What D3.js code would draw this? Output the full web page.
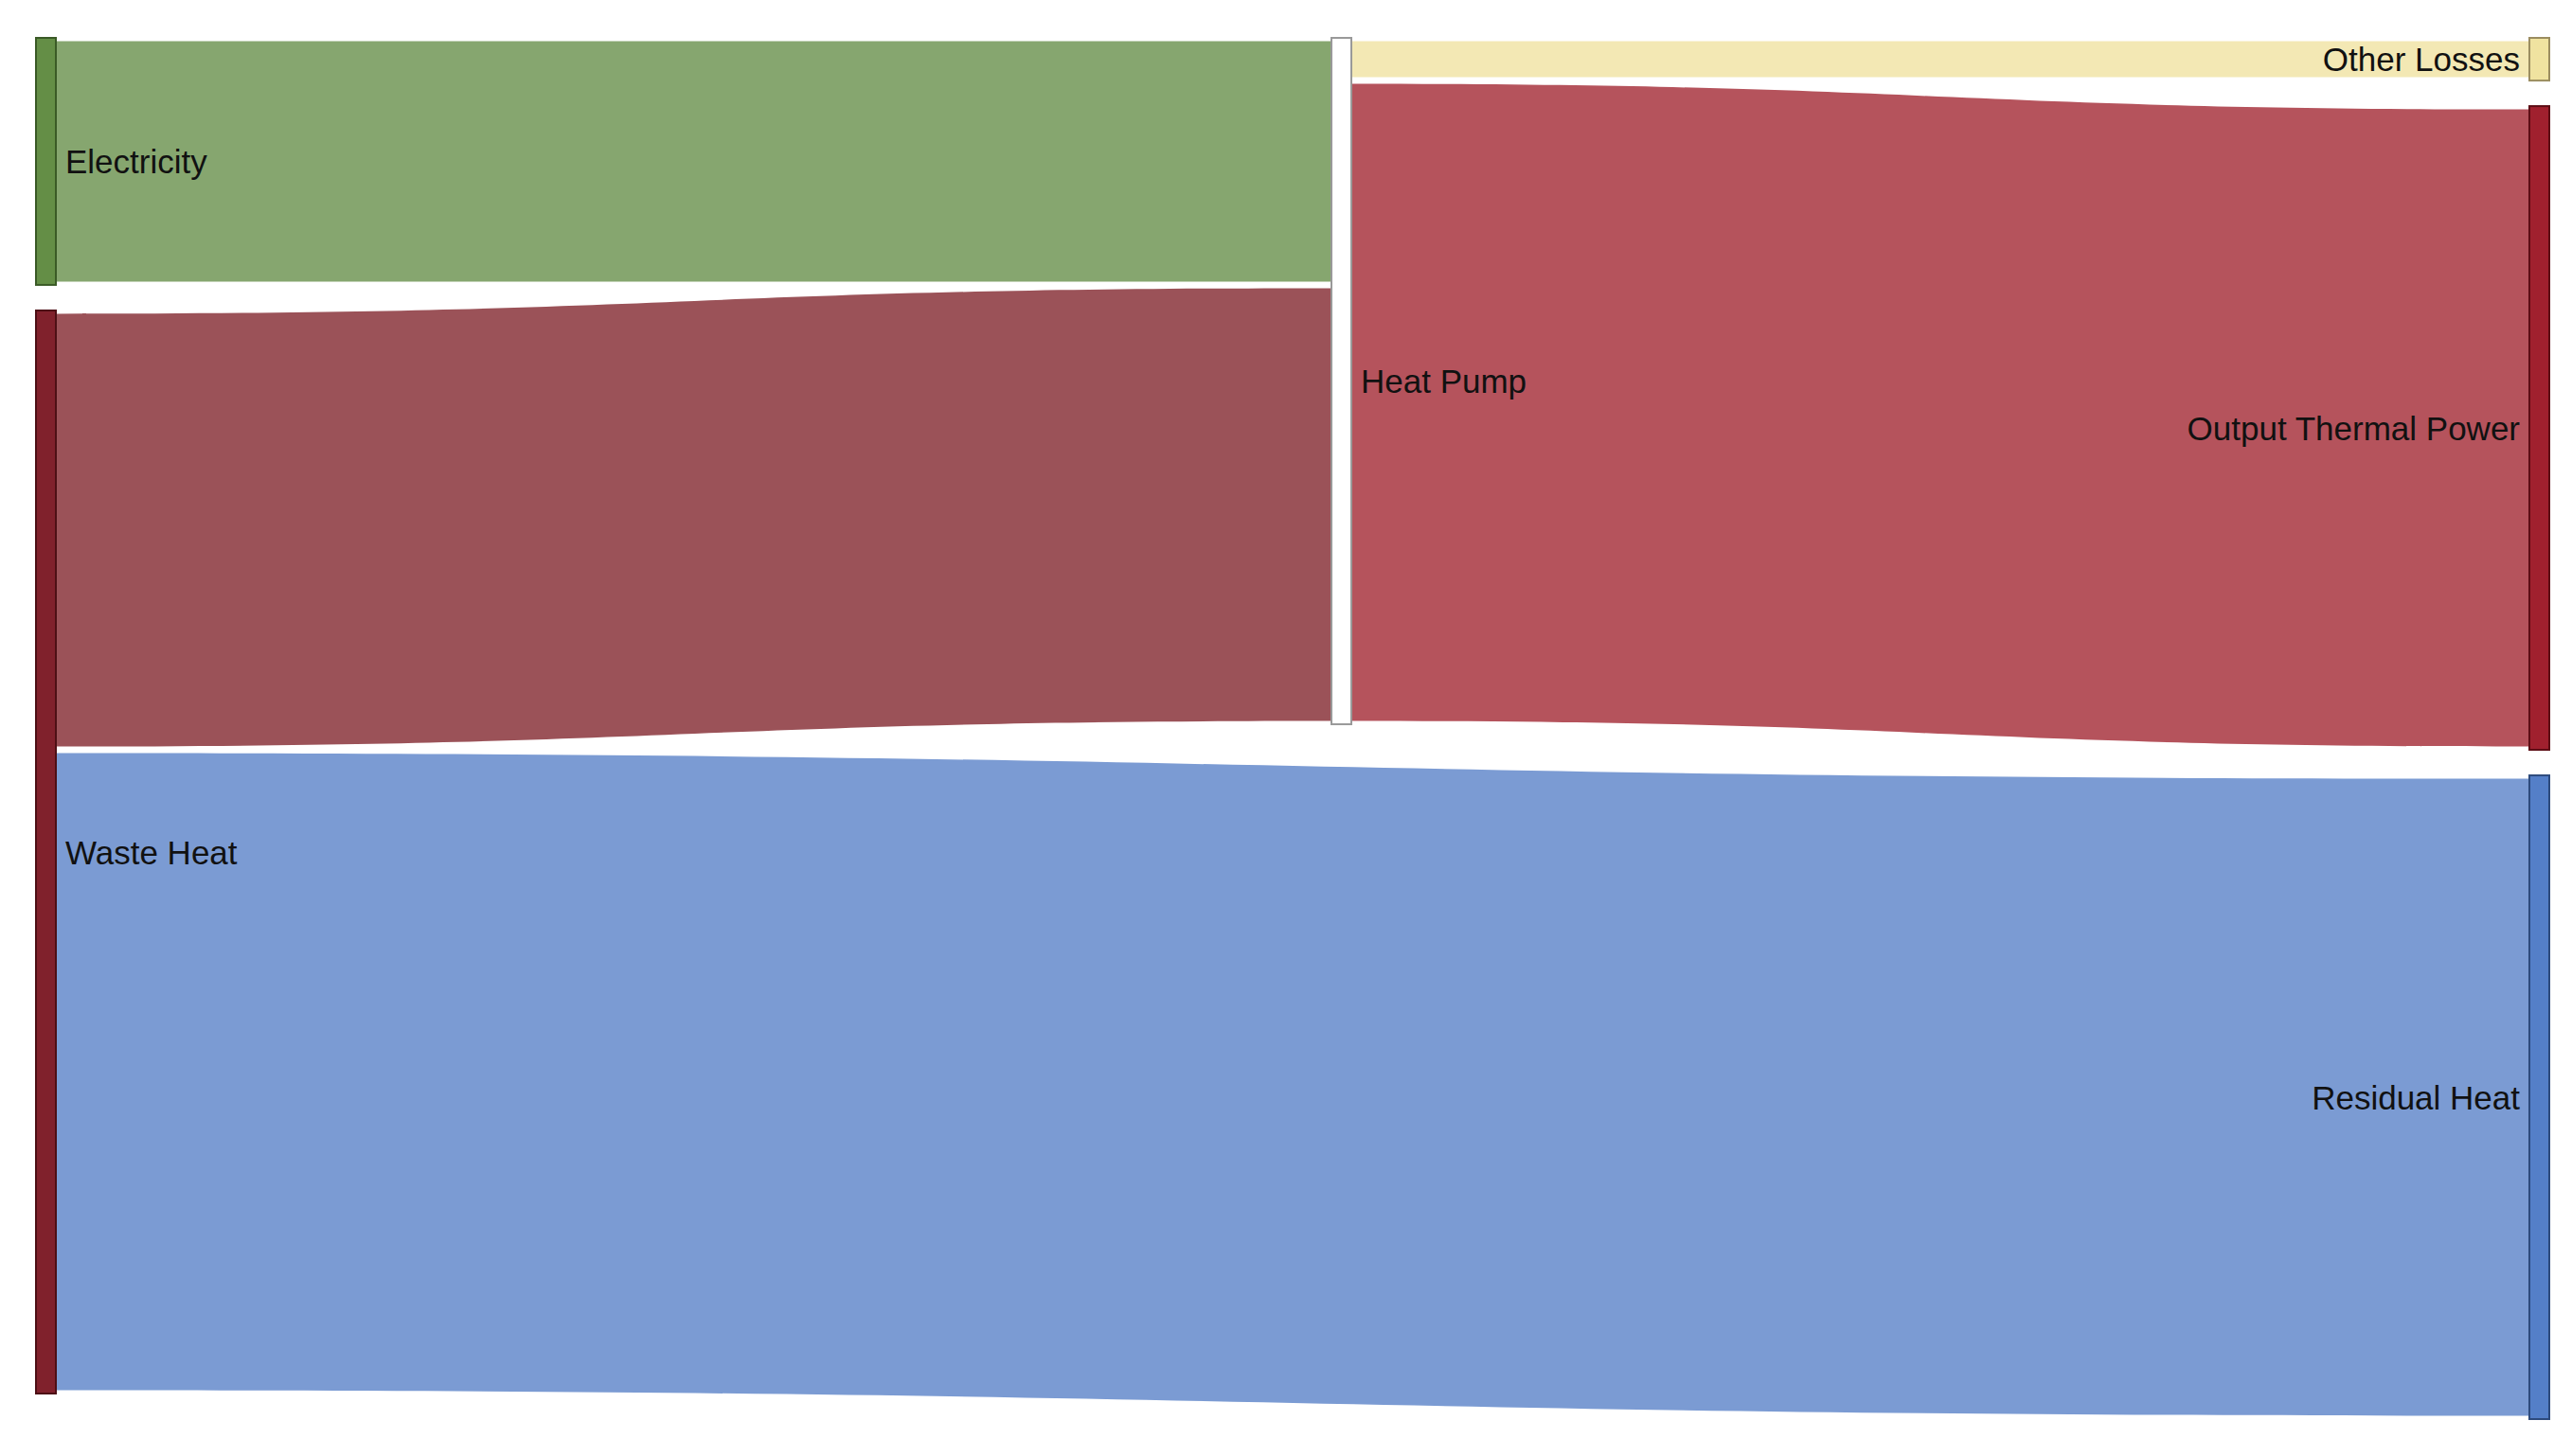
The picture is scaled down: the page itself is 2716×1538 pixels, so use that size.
<!DOCTYPE html>
<html>
<head>
<meta charset="utf-8">
<script src="https://cdn.jsdelivr.net/npm/d3@7"></script>
<style>
  html, body { margin: 0; padding: 0; background: #fff; }
  svg { display: block; }
  text { font-family: Arial, "Liberation Sans", sans-serif; }
</style>
</head>
<body>
<svg id="chart"></svg>
<script>
// nodes
const nodeNames = ["Electricity", "Waste Heat", "Heat Pump", "Other Losses", "Output Thermal Power", "Residual Heat"];
const nodeColumns = [0, 0, 1, 2, 2, 2];
const nodeFills = ["#648e46", "#80212c", "#ffffff", "#f0e3a0", "#a0202e", "#547fc8"];
const nodeStrokes = ["#3a5a26", "#4d0f15", "#999999", "#9b8d60", "#5c0c14", "#2d4a7c"];

// links
const linkSources = ["Electricity", "Waste Heat", "Waste Heat", "Heat Pump", "Heat Pump"];
const linkTargets = ["Heat Pump", "Heat Pump", "Residual Heat", "Other Losses", "Output Thermal Power"];
const linkValues = [100, 180, 265, 15, 265];
const linkColors = ["#86a66f", "#9b5258", "#7b9bd3", "#f3e8b4", "#b5535c"];

const width = 2716;
const height = 1538;
const extent = [40, 1499];
const nodeWidth = 21;
const nodePadding = 27;
const linkGap = 7;

const svg = d3.select("#chart").attr("width", width).attr("height", height);

// column positions (middle column sits a bit right of centre, like the original)
const colX = d3.scaleLinear().domain([0, 1, 2]).range([38, 1406, 2671]);

const nodes = nodeNames.map((name, i) => ({
  name,
  col: nodeColumns[i],
  fill: nodeFills[i],
  stroke: nodeStrokes[i],
  sourceLinks: [],
  targetLinks: []
}));
const byName = new Map(nodes.map((n) => [n.name, n]));
const links = linkValues.map((v, i) => ({
  source: byName.get(linkSources[i]),
  target: byName.get(linkTargets[i]),
  value: v,
  color: linkColors[i]
}));
links.forEach((l) => {
  l.source.sourceLinks.push(l);
  l.target.targetLinks.push(l);
});
nodes.forEach((n) => {
  n.value = Math.max(d3.sum(n.sourceLinks, (l) => l.value), d3.sum(n.targetLinks, (l) => l.value));
  n.gaps = Math.max(n.sourceLinks.length, n.targetLinks.length);
});

const columns = d3.groups(nodes, (n) => n.col).sort((a, b) => a[0] - b[0]).map((g) => g[1]);

// pixels per unit, set by the fullest column
const ky = d3.min(columns, (c) =>
  (extent[1] - extent[0] - (c.length - 1) * nodePadding - d3.sum(c, (n) => n.gaps) * linkGap) /
  d3.sum(c, (n) => n.value)
);
const h = d3.scaleLinear().domain([0, 1]).range([0, ky]);

columns.forEach((col) => {
  let y = extent[0];
  col.forEach((n) => {
    n.x0 = colX(n.col);
    n.x1 = n.x0 + nodeWidth;
    n.y0 = y;
    n.y1 = y + h(n.value) + n.gaps * linkGap;
    y = n.y1 + nodePadding;
  });
});

links.forEach((l) => (l.width = h(l.value)));
nodes.forEach((n) => {
  n.sourceLinks.sort((a, b) => a.target.y0 - b.target.y0);
  n.targetLinks.sort((a, b) => a.source.y0 - b.source.y0);
  let sy = n.y0 + linkGap / 2;
  n.sourceLinks.forEach((l) => {
    l.sy0 = sy;
    l.sy1 = sy + l.width;
    sy = l.sy1 + linkGap;
  });
  let ty = n.y0 + linkGap / 2;
  n.targetLinks.forEach((l) => {
    l.ty0 = ty;
    l.ty1 = ty + l.width;
    ty = l.ty1 + linkGap;
  });
});

function linkArea(l) {
  const x0 = l.source.x1 + 1;
  const x1 = l.target.x0 - 1;
  const xm = (x0 + x1) / 2;
  const p = d3.path();
  p.moveTo(x0, l.sy0);
  p.bezierCurveTo(xm, l.sy0, xm, l.ty0, x1, l.ty0);
  p.lineTo(x1, l.ty1);
  p.bezierCurveTo(xm, l.ty1, xm, l.sy1, x0, l.sy1);
  p.closePath();
  return p.toString();
}

svg.append("g")
  .attr("class", "links")
  .selectAll("path")
  .data(links)
  .join("path")
  .attr("d", linkArea)
  .attr("fill", (d) => d.color);

svg.append("g")
  .attr("class", "nodes")
  .selectAll("rect")
  .data(nodes)
  .join("rect")
  .attr("x", (d) => d.x0)
  .attr("y", (d) => d.y0)
  .attr("width", (d) => d.x1 - d.x0)
  .attr("height", (d) => d.y1 - d.y0)
  .attr("fill", (d) => d.fill)
  .attr("stroke", (d) => d.stroke)
  .attr("stroke-width", 2);

svg.append("g")
  .attr("class", "labels")
  .selectAll("text")
  .data(nodes)
  .join("text")
  .attr("x", (d) => (d.col === 2 ? d.x0 - 10 : d.x1 + 10))
  .attr("y", (d) => (d.y0 + d.y1) / 2)
  .attr("dy", "0.36em")
  .attr("text-anchor", (d) => (d.col === 2 ? "end" : "start"))
  .attr("font-size", 35)
  .attr("fill", "#111")
  .text((d) => d.name);
</script>
</body>
</html>
